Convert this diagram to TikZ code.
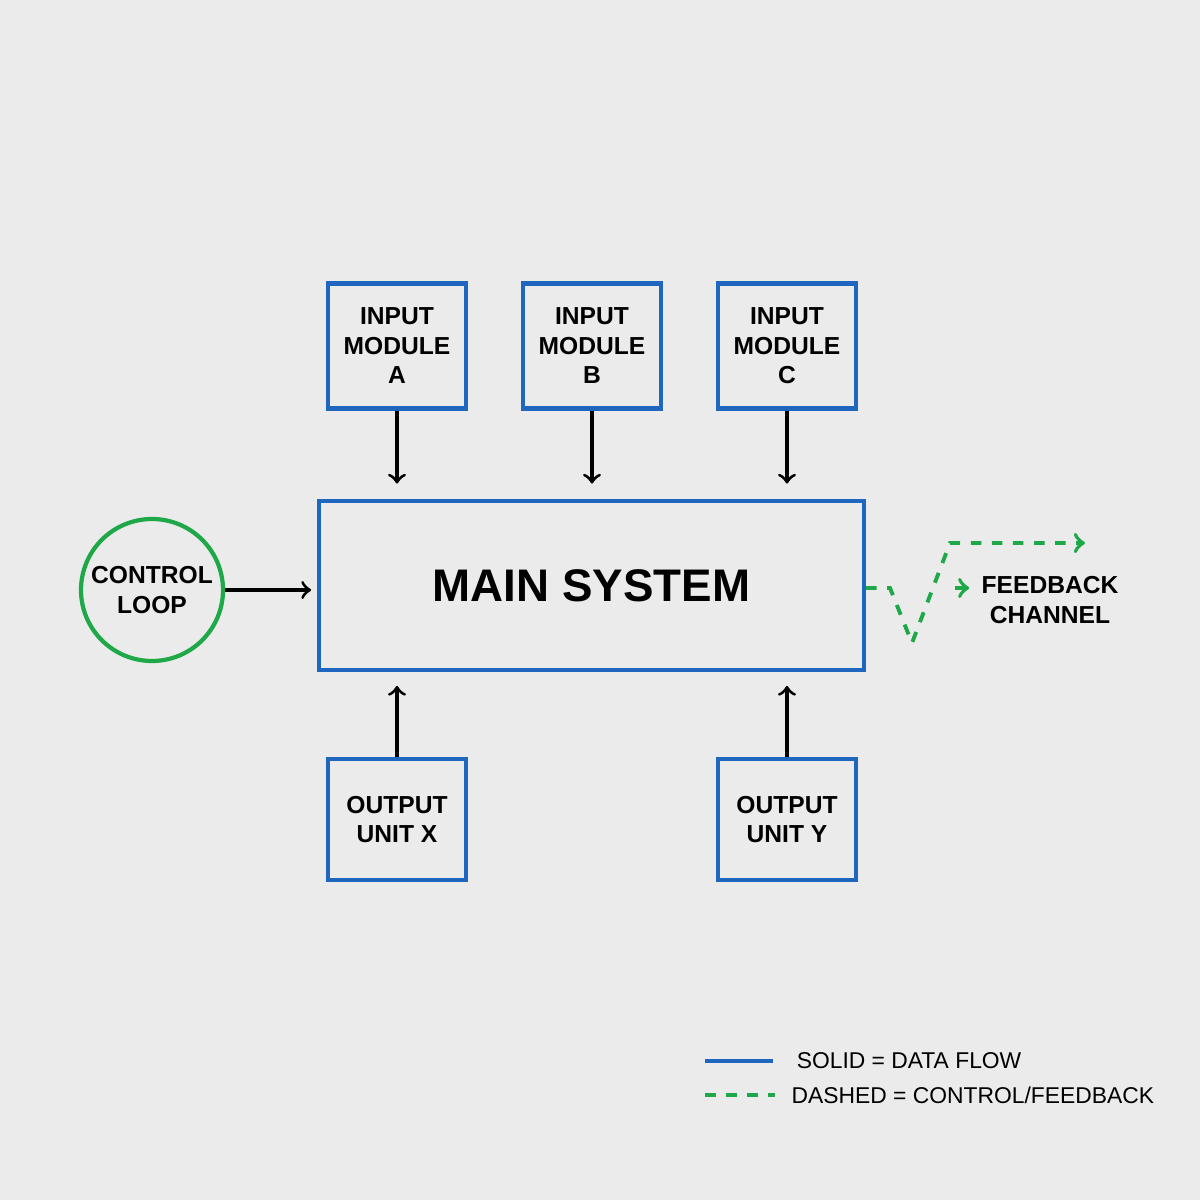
\documentclass[tikz,border=0pt]{standalone}
\usepackage{fontspec}
\setmainfont{Liberation Sans}
\usetikzlibrary{positioning}
\definecolor{bgray}{RGB}{235,235,235}
\definecolor{sysblue}{RGB}{30,102,190}
\definecolor{loopgreen}{RGB}{30,168,72}
\tikzset{
  block/.style={draw=sysblue,line width=1.2pt,fill=none,align=center,font=\bfseries\fontsize{7}{8.4}\selectfont,inner sep=0pt},
  flow/.style={black,line width=0.9pt,->},
  ctrl/.style={loopgreen,line width=1.1pt,dash pattern=on 3pt off 3pt},
}
\begin{document}
\begin{tikzpicture}
  \fill[bgray] (0,0) rectangle (12,12);
  \useasboundingbox (0,0) rectangle (12,12);
  % Blocks
  \node[block,minimum width=5.45cm,minimum height=1.69cm,font=\bfseries\fontsize{13}{16}\selectfont] (main) at (5.915,6.145) {MAIN SYSTEM};
  \foreach \n/\x/\t in {ina/3.97/A, inb/5.92/B, inc/7.87/C} {
    \node[block,minimum width=1.38cm,minimum height=1.25cm] (\n) at (\x,8.54) {INPUT\\MODULE\\\t};
  }
  \node[block,minimum width=1.38cm,minimum height=1.21cm] (outx) at (3.97,3.805) {OUTPUT\\UNIT X};
  \node[block,minimum width=1.38cm,minimum height=1.21cm] (outy) at (7.87,3.805) {OUTPUT\\UNIT Y};
  \node[circle,draw=loopgreen,line width=1.2pt,minimum size=1.42cm,inner sep=0pt,align=center,font=\bfseries\fontsize{7}{8.4}\selectfont] (loop) at (1.52,6.10) {CONTROL\\LOOP};
  % Data flow
  \foreach \n in {ina,inb,inc} {
    \draw[flow] (\n.south) -- ++(0,-0.73);
  }
  \draw[flow] (outx.north) -- ++(0,0.71);
  \draw[flow] (outy.north) -- ++(0,0.71);
  \draw[flow] (loop.east) -- ++(0.86,0);
  % Feedback
  \node[font=\bfseries\fontsize{7}{8.4}\selectfont,align=center] (fb) at (10.5,6.0) {FEEDBACK\\CHANNEL};
  \coordinate (fa) at (8.9,6.12);
  \coordinate (fv) at (9.12,5.57);
  \coordinate (fu) at (9.5,6.57);
  \coordinate (fe) at (10.85,6.57);
  \coordinate (fs) at (9.55,6.12);
  \draw[loopgreen,line width=1.1pt,->] (fs) -- (fs -| fb.west);
  \draw[ctrl,->] (main.east |- fa) -- (fa) -- (fv) -- (fu) -- (fe);
  % Legend
  \coordinate (l1) at (7.05,1.39);
  \coordinate (l2) at (7.05,1.05);
  \draw[sysblue,line width=1.2pt] (l1) -- ++(0.68,0) node[right=0.1cm,black,font=\fontsize{6.5}{8}\selectfont] (lt1) {SOLID = DATA FLOW};
  \draw[ctrl] (l2) -- ++(0.70,0) node[right=0.03cm,black,font=\fontsize{6.5}{8}\selectfont] (lt2) {DASHED = CONTROL/FEEDBACK};
\end{tikzpicture}
\end{document}
